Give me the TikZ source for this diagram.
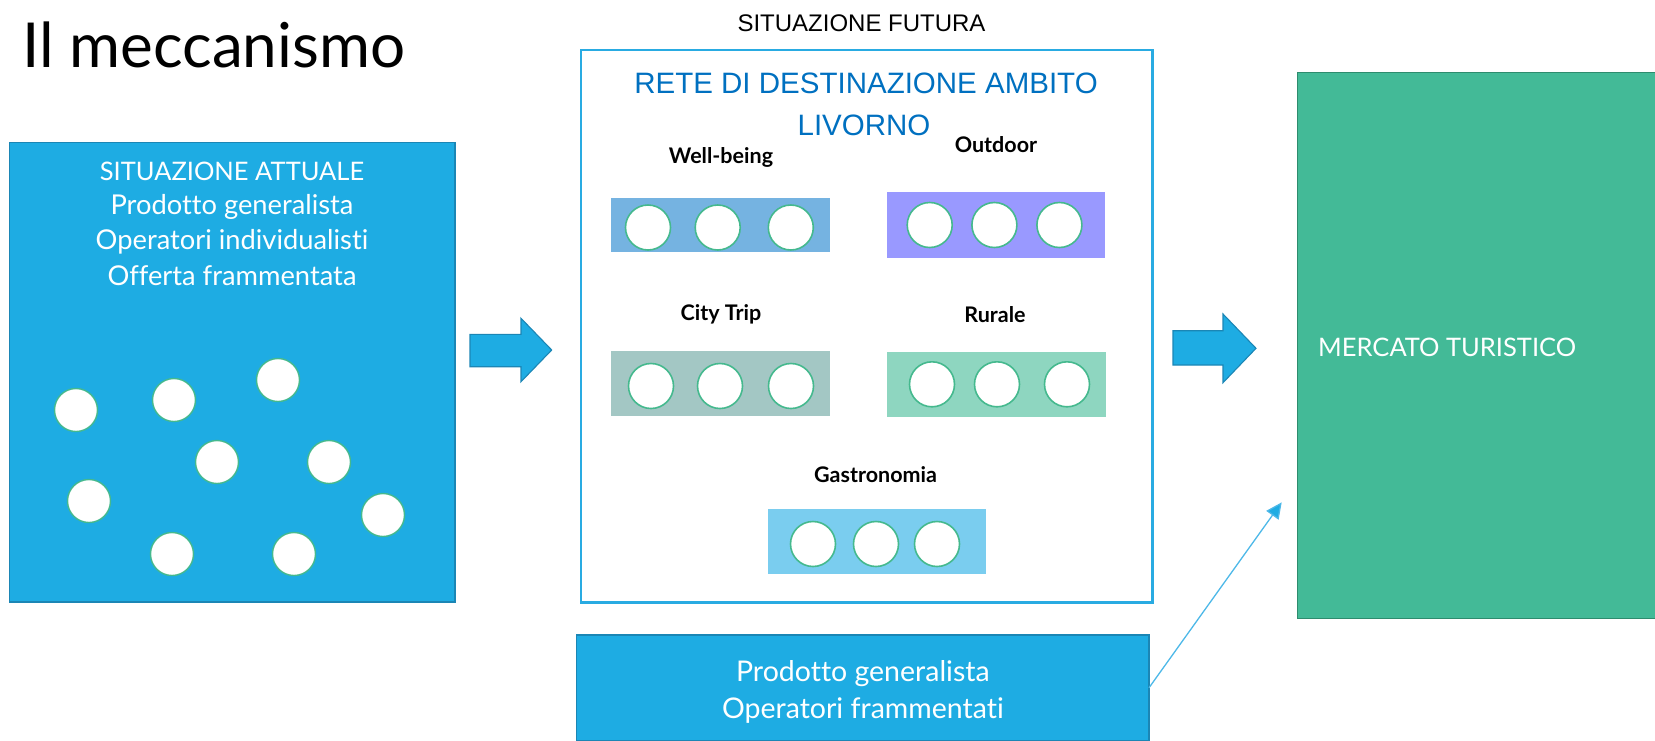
\documentclass[tikz,border=0pt]{standalone}
\usepackage{fontspec}
\setmainfont{Lato}[Ligatures={NoCommon}]
\newfontfamily\headfont{Liberation Sans}
\newfontfamily\arialfont{Liberation Sans}
\usetikzlibrary{arrows.meta}
\definecolor{boxblue}{HTML}{1EACE3}
\definecolor{boxblueedge}{HTML}{1B86B5}
\definecolor{framebl}{HTML}{29ABE2}
\definecolor{headblue}{HTML}{0070C0}
\definecolor{mktgreen}{HTML}{43BA97}
\definecolor{mktedge}{HTML}{2E8C6E}
\definecolor{ringgreen}{HTML}{45B98E}
\definecolor{wellc}{HTML}{75B3E1}
\definecolor{outc}{HTML}{9999FF}
\definecolor{cityc}{HTML}{A3C7C4}
\definecolor{rurc}{HTML}{8ED6C0}
\definecolor{gastc}{HTML}{7ACDEF}
\definecolor{linkblue}{HTML}{4DB8E8}
\begin{document}
\begin{tikzpicture}[x=1pt,y=-1pt,
  box/.style={rectangle, inner sep=0pt, outer sep=0pt, anchor=north west},
  bluebox/.style={box, fill=boxblue, draw=boxblueedge, line width=1.3pt},
  catbox/.style={box},
  dot/.style={circle, draw=ringgreen, line width=1.4pt, fill=white, minimum size=43pt, inner sep=0pt},
  sdot/.style={circle, draw=ringgreen, line width=1.6pt, fill=white, minimum size=45pt, inner sep=0pt},
  wtext/.style={anchor=base, text=white, inner sep=0pt, font=\fontsize{25.5}{30}\selectfont},
  cattext/.style={anchor=base, inner sep=0pt, font=\bfseries\fontsize{21.5}{26}\selectfont},
  blockarrow/.style={fill=boxblue, draw=boxblueedge, line width=1.1pt, line join=miter},
  linkarrow/.style={draw=linkblue, line width=1.3pt, -{Triangle[length=16pt,width=15pt,fill=boxblue]}}
]
\useasboundingbox (0,0) rectangle (1655,740);
\clip (0,0) rectangle (1655,740);

% title
\node[anchor=base west, inner sep=0pt, font=\fontsize{62}{72}\selectfont] (title) at (22,67) {Il meccanismo};

% left box
\node[bluebox, minimum width=445.5pt, minimum height=459.5pt] (left) at (9.5,142.5) {};
\node[wtext] (l1) at (232,180) {SITUAZIONE ATTUALE};
\node[wtext, font=\fontsize{27.3}{30}\selectfont] (l2) at (232,214) {Prodotto generalista};
\node[wtext, font=\fontsize{27.3}{30}\selectfont] (l3) at (232,249) {Operatori individualisti};
\node[wtext, font=\fontsize{27.3}{30}\selectfont] (l4) at (232,285) {Offerta frammentata};
\foreach \n/\x/\y in {a/76/410, b/174/400, c/278/380, d/217/462, e/329/462, f/89/501, g/383/515, h/172/554, i/294/554}
  \node[dot] (ld\n) at (\x,\y) {};

% arrow 1
\draw[blockarrow] (470,334.3) -- (521,334.3) -- (521,318.3) -- (551.7,350) -- (521,381.7) -- (521,366.7) -- (470,366.7) -- cycle;

% future frame
\node[anchor=base, inner sep=0pt, font=\arialfont\fontsize{24}{28}\selectfont] (futtitle) at (861.5,31.7) {SITUAZIONE FUTURA};
\node[box, draw=framebl, line width=2.4pt, minimum width=571.5pt, minimum height=552.5pt] (frame) at (581,50) {};
\node[anchor=base, inner sep=0pt, text=headblue, font=\headfont\fontsize{29.5}{36}\selectfont] (head1) at (866,93.3) {RETE DI DESTINAZIONE AMBITO};
\node[anchor=base, inner sep=0pt, text=headblue, font=\headfont\fontsize{29.5}{36}\selectfont] (head2) at (864,135) {LIVORNO};

% categories
\node[cattext] (twell) at (721,163.3) {Well-being};
\node[cattext] (tout) at (996,152.7) {Outdoor};
\node[cattext] (tcity) at (721,320) {City Trip};
\node[cattext] (trur) at (995,322.3) {Rurale};
\node[cattext] (tgast) at (875.5,482.7) {Gastronomia};

\node[catbox, fill=wellc, minimum width=219pt, minimum height=53.7pt] (bwell) at (610.5,198.3) {};
\node[catbox, fill=outc, minimum width=218.6pt, minimum height=66.5pt] (bout) at (886.6,191.5) {};
\node[catbox, fill=cityc, minimum width=219.3pt, minimum height=65pt] (bcity) at (610.5,351) {};
\node[catbox, fill=rurc, minimum width=219pt, minimum height=65pt] (brur) at (886.8,352.3) {};
\node[catbox, fill=gastc, minimum width=217.6pt, minimum height=65pt] (bgast) at (768,509) {};

\foreach \n/\x in {1/648, 2/717.7, 3/790.8} \node[sdot] (w\n) at (\x,227.5) {};
\foreach \n/\x in {1/929.7, 2/994.4, 3/1059.4} \node[sdot] (o\n) at (\x,225) {};
\foreach \n/\x in {1/651, 2/720, 3/791} \node[sdot] (c\n) at (\x,386) {};
\foreach \n/\x in {1/932, 2/997, 3/1067} \node[sdot] (r\n) at (\x,384.3) {};
\foreach \n/\x in {1/813, 2/876, 3/937} \node[sdot] (g\n) at (\x,544) {};

% arrow 2
\draw[blockarrow] (1173,330.7) -- (1223,330.7) -- (1223,314) -- (1256,348.3) -- (1223,382.7) -- (1223,365) -- (1173,365) -- cycle;

% market
\node[box, fill=mktgreen, draw=mktedge, line width=1.3pt, minimum width=380pt, minimum height=545.5pt] (market) at (1297.3,72.7) {};
\node[anchor=base west, inner sep=0pt, text=white, font=\fontsize{25.5}{30}\selectfont] (mkttext) at (1318,356) {MERCATO TURISTICO};

% bottom box
\node[bluebox, minimum width=572.3pt, minimum height=105.5pt] (bottom) at (576.7,635) {};
\node[wtext, font=\fontsize{28.5}{32}\selectfont] (b1) at (862.9,681.7) {Prodotto generalista};
\node[wtext, font=\fontsize{28.5}{32}\selectfont] (b2) at (862.9,718.3) {Operatori frammentati};

\coordinate (tip) at (1281.7,502.3);
\draw[linkarrow] (bottom.east) -- (tip);
\end{tikzpicture}
\end{document}
